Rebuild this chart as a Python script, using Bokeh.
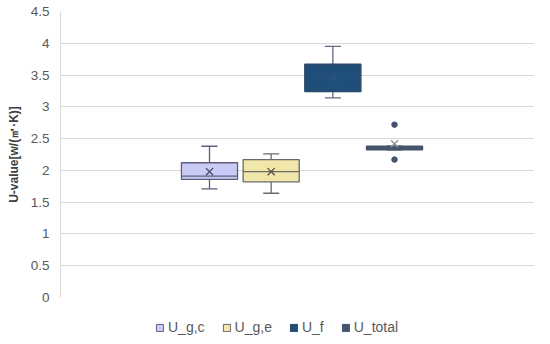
import numpy as np
from bokeh.plotting import figure
from bokeh.layouts import column
from bokeh.models import ColumnDataSource, Legend, LegendItem, FixedTicker, Range1d
from bokeh.embed import file_html
from bokeh.resources import INLINE

# ---- data ----
series = ["U_g,c", "U_g,e", "U_f", "U_total"]
whisker_low = [1.71, 1.64, 3.14, 2.325]
q1 = [1.86, 1.82, 3.24, 2.325]
median = [1.91, 1.98, 3.47, 2.35]
q3 = [2.12, 2.17, 3.67, 2.38]
whisker_high = [2.38, 2.26, 3.95, 2.38]
mean = [1.98, 1.98, 3.47, 2.42]
outlier_series = ["U_total", "U_total"]
outlier_values = [2.72, 2.17]
y_ticks = [0, 0.5, 1, 1.5, 2, 2.5, 3, 3.5, 4, 4.5]
y_tick_labels = ["0", "0.5", "1", "1.5", "2", "2.5", "3", "3.5", "4", "4.5"]
y_title = "U-value[w/(㎡·K)]"

# ---- styles ----
fill_colors = ["#cacaf6", "#f2e7ab", "#1f4e79", "#44546a"]
line_colors = ["#5c5f7c", "#6a6a66", "#2b4766", "#44546a"]
whisker_colors = ["#5c5f7c", "#6a6a66", "#5d6b7c", "#44546a"]
median_colors = ["#5c5f7c", "#6a6a66", "#24507c", "#44546a"]
mean_colors = ["#4a4d66", "#55554f", "#2a5580", "#8a93a3"]

n = len(series)
xs = np.arange(n, dtype=float)
box_w = 0.91
cap_half = 0.13

src = ColumnDataSource(dict(
    x=xs, name=series, lo=whisker_low, q1=q1, med=median, q3=q3, hi=whisker_high,
    mean=mean, fill=fill_colors, line=line_colors, wcol=whisker_colors,
    mcol=median_colors, meancol=mean_colors,
    x0=xs - box_w / 2, x1=xs + box_w / 2, c0=xs - cap_half, c1=xs + cap_half,
))

p = figure(width=534, height=305, output_backend="svg", toolbar_location=None,
           x_range=Range1d(-2.416, 5.27), y_range=Range1d(0, 4.5),
           min_border_left=60, min_border_right=0, min_border_top=11, min_border_bottom=8)
p.outline_line_color = None
p.background_fill_color = "white"

# whiskers
p.segment(x0="x", y0="q3", x1="x", y1="hi", line_color="wcol", line_width=1.3, source=src)
p.segment(x0="x", y0="q1", x1="x", y1="lo", line_color="wcol", line_width=1.3, source=src)
p.segment(x0="c0", y0="hi", x1="c1", y1="hi", line_color="wcol", line_width=1.3, source=src)
p.segment(x0="c0", y0="lo", x1="c1", y1="lo", line_color="wcol", line_width=1.3, source=src)

# boxes
p.vbar(x="x", width=box_w, bottom="q1", top="q3", fill_color="fill",
       line_color="line", line_width=1.3, source=src)
# medians
p.segment(x0="x0", y0="med", x1="x1", y1="med", line_color="mcol", line_width=1.3, source=src)
# means
p.scatter(x="x", y="mean", marker="x", size=10, line_color="meancol", line_width=1.4, source=src)

# outliers
ox = [series.index(s) for s in outlier_series]
p.scatter(x=ox, y=outlier_values, marker="circle", size=5.5,
          fill_color="#44546a", line_color="#44546a")

# axes
p.xaxis.visible = False
p.xgrid.visible = False
p.ygrid.ticker = FixedTicker(ticks=y_ticks)
p.ygrid.grid_line_color = "#d9d9d9"
p.ygrid.grid_line_width = 1
ya = p.yaxis[0]
ya.ticker = FixedTicker(ticks=y_ticks)
ya.major_label_overrides = {t: l for t, l in zip(y_ticks, y_tick_labels)}
ya.axis_line_color = "#d9d9d9"
ya.major_tick_line_color = None
ya.minor_tick_line_color = None
ya.major_tick_out = 0
ya.major_tick_in = 0
ya.minor_tick_out = 0
ya.minor_tick_in = 0
ya.major_label_standoff = 11
ya.major_label_text_font = "Liberation Sans"
ya.major_label_text_font_size = "13.5px"
ya.major_label_text_color = "#595959"
ya.axis_label = y_title
ya.axis_label_text_font = "Liberation Sans"
ya.axis_label_text_font_style = "bold"
ya.axis_label_text_font_size = "12px"
ya.axis_label_text_color = "#404040"
ya.axis_label_standoff = 7

# legend in a separate strip below the plot
lg = figure(width=534, height=31, output_backend="svg", toolbar_location=None,
            x_range=Range1d(0, 1), y_range=Range1d(0, 1),
            min_border_left=60, min_border_right=0, min_border_top=0, min_border_bottom=0)
lg.axis.visible = False
lg.grid.visible = False
lg.outline_line_color = None
leg_src = ColumnDataSource(dict(x=[10.0] * n, fill=fill_colors, line=line_colors))
leg_r = lg.vbar(x="x", width=0.5, bottom=5, top=6, fill_color="fill",
                line_color="line", line_width=1, source=leg_src)
items = [LegendItem(label=s, renderers=[leg_r], index=i) for i, s in enumerate(series)]
legend = Legend(items=items, orientation="horizontal", location=(95, 1),
                glyph_width=9, glyph_height=9, label_standoff=4, spacing=17,
                padding=0, margin=0, border_line_color=None, background_fill_alpha=0,
                label_text_font="Liberation Sans", label_text_font_size="14px",
                label_text_color="#595959", label_height=14)
lg.add_layout(legend, "center")

layout = column(p, lg, spacing=0)
open("out.html", "w").write(file_html(layout, INLINE))
